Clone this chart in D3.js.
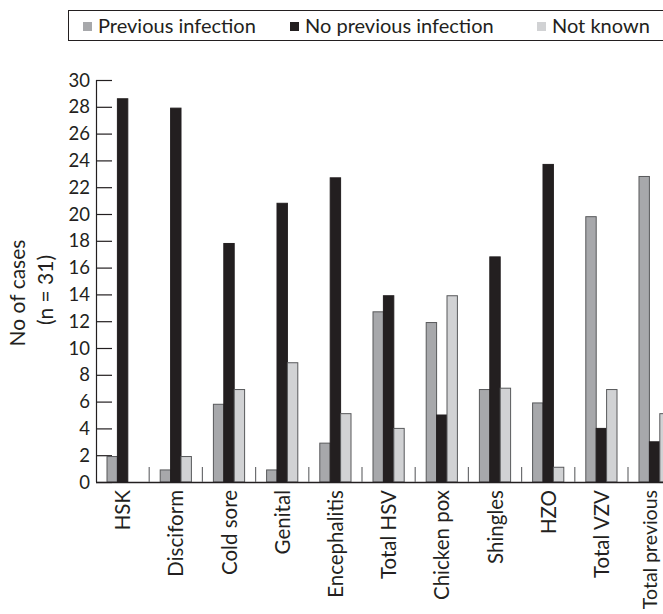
<!DOCTYPE html>
<html><head><meta charset="utf-8">
<script src="https://cdn.jsdelivr.net/npm/d3@7"></script>
<style>body{margin:0;background:#fff}svg{display:block}text{font-family:Lato,"Open Sans",sans-serif;fill:#231f20}</style>
</head><body><svg id="c" width="663" height="614"></svg>
<script>
const categories = ["HSK","Disciform","Cold sore","Genital","Encephalitis","Total HSV","Chicken pox","Shingles","HZO","Total VZV","Total previous"];
const previousInfection = [1.9,0.9,5.8,0.9,2.9,12.7,11.9,6.9,5.9,19.8,22.8];
const noPreviousInfection = [28.6,27.9,17.8,20.8,22.7,13.9,5.0,16.8,23.7,4.0,3.0];
const notKnown = [0,1.9,6.9,8.9,5.1,4.0,13.9,7.0,1.1,6.9,5.1];
const seriesNames = ["Previous infection","No previous infection","Not known"];
const yTicks = d3.range(0,31,2);

const colors = ["#a7a8ab","#231f20","#d1d2d4"];
const strokes = ["#58595b","#231f20","#58595b"];
const series = [previousInfection, noPreviousInfection, notKnown];

const svg = d3.select("#c");
const x0 = 96, y0 = 482, yTop = 80;
const x = d3.scaleBand().domain(categories).range([x0, x0 + 11*53.2]).padding(0);
const y = d3.scaleLinear().domain([0,30]).range([y0, yTop]);
const barW = 10.4;
const xs = d3.scaleBand().domain([0,1,2]).range([0, barW*3]);

// y axis
const yAxis = d3.axisRight(y).tickValues(yTicks).tickSize(16).tickFormat("");
const gy = svg.append("g").attr("transform",`translate(${x0},0)`).call(yAxis);
gy.select(".domain").attr("stroke","#231f20").attr("stroke-width",1.2).attr("d",`M0.5,${yTop}V${y0}`);
gy.selectAll(".tick line").attr("stroke","#231f20").attr("stroke-width",1.2);
svg.append("g").selectAll("text").data(yTicks).join("text")
  .attr("x",90).attr("y",d=>y(d)).attr("dy","0.36em").attr("text-anchor","end")
  .attr("font-size",18.5).text(d=>d);

// bars
categories.forEach((c,i)=>{
  const gx = x(c) + (x.bandwidth() - barW*3)/2;
  series.forEach((s,k)=>{
    const v = s[i];
    if (v<=0) return;
    svg.append("rect").attr("x",gx+xs(k)).attr("y",y(v)).attr("width",barW).attr("height",y(0)-y(v))
      .attr("fill",colors[k]).attr("stroke",strokes[k]).attr("stroke-width",1);
  });
});

// x axis line and separators
svg.append("line").attr("x1",x0).attr("x2",700).attr("y1",y0+0.5).attr("y2",y0+0.5).attr("stroke","#231f20").attr("stroke-width",1.4);
svg.append("g").selectAll("line").data(categories.slice(1)).join("line")
  .attr("x1",d=>x(d)).attr("x2",d=>x(d)).attr("y1",y0).attr("y2",y0-15)
  .attr("stroke","#6d6e71").attr("stroke-width",1.2);

// x labels
const lastCat = categories[categories.length-1];
svg.append("g").selectAll("text").data(categories).join("text")
  .attr("transform",d=>`translate(${Math.min(x(d)+x.bandwidth()/2+7.5, 657)},490) rotate(-90)`)
  .attr("text-anchor","end").attr("font-size",d=>d===lastCat?19.5:20.5).text(d=>d);

// y label
svg.append("text").attr("transform","translate(25,293) rotate(-90)").attr("text-anchor","middle").attr("font-size",21).text("No of cases");
svg.append("text").attr("transform","translate(53,290) rotate(-90)").attr("text-anchor","middle").attr("font-size",21).text("(n = 31)");

// legend
svg.append("rect").attr("x",68.5).attr("y",10.5).attr("width",700).attr("height",30).attr("fill","none").attr("stroke","#231f20").attr("stroke-width",1);
const legX = [83, 290, 537];
seriesNames.forEach((n,k)=>{
  svg.append("rect").attr("x",legX[k]).attr("y",22).attr("width",9).attr("height",9).attr("fill",colors[k]);
  svg.append("text").attr("x",legX[k]+15).attr("y",33).attr("font-size",20).text(n);
});
</script></body></html>
